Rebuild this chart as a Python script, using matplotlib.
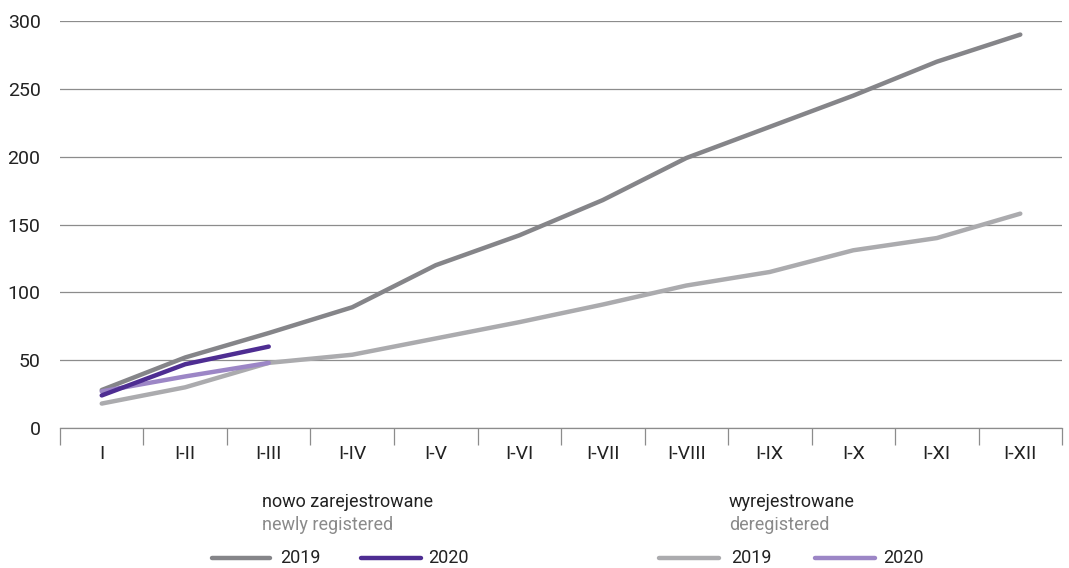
import numpy as np
import matplotlib
matplotlib.use("Agg")
import matplotlib.pyplot as plt
from matplotlib import font_manager

# pick a narrow font if available
names = {f.name for f in font_manager.fontManager.ttflist}
font = "Liberation Sans Narrow" if "Liberation Sans Narrow" in names else "Roboto"
plt.rcParams['font.family'] = [font, 'DejaVu Sans']

# Data
months = ["I", "I-II", "I-III", "I-IV", "I-V", "I-VI", "I-VII", "I-VIII", "I-IX", "I-X", "I-XI", "I-XII"]
new_2019 = [28, 52, 70, 89, 120, 142, 168, 199, 222, 245, 270, 290]
new_2020 = [24, 47, 60]
dereg_2019 = [18, 30, 48, 54, 66, 78, 91, 105, 115, 131, 140, 158]
dereg_2020 = [27, 38, 48]
y_ticks = [0, 50, 100, 150, 200, 250, 300]

c_new19 = "#858589"
c_new20 = "#4e2d92"
c_der19 = "#ababae"
c_der20 = "#9c86c6"

fig = plt.figure(figsize=(10.69, 5.68), dpi=100)
ax = fig.add_axes([0.0561, 0.2465, 0.9374, 0.7165])

x = np.arange(len(months))
lw = 3.2
ax.plot(x, dereg_2019, color=c_der19, lw=lw, solid_capstyle="round", zorder=3)
ax.plot(x, new_2019, color=c_new19, lw=lw, solid_capstyle="round", zorder=4)
ax.plot(x[:len(dereg_2020)], dereg_2020, color=c_der20, lw=lw, solid_capstyle="round", zorder=5)
ax.plot(x[:len(new_2020)], new_2020, color=c_new20, lw=lw, solid_capstyle="round", zorder=6)

ax.set_xlim(-0.5, len(months) - 0.5)
ax.set_ylim(0, 300)
ax.set_yticks(y_ticks)
ax.set_yticklabels([str(v) for v in y_ticks], fontsize=14, color="#222222")
ax.tick_params(axis="y", length=0, pad=14)
ax.yaxis.grid(True, color="#8c8c8c", lw=0.9)
ax.set_axisbelow(True)

# category labels centred, tick marks at boundaries
ax.set_xticks(x)
ax.set_xticklabels(months, fontsize=14, color="#222222")
ax.tick_params(axis="x", which="major", length=0, pad=12)
ax.set_xticks(np.arange(len(months) + 1) - 0.5, minor=True)
ax.tick_params(axis="x", which="minor", length=12, width=0.9, color="#8c8c8c")

for s in ["left", "right", "top"]:
    ax.spines[s].set_visible(False)
ax.spines["bottom"].set_color("#8c8c8c")
ax.spines["bottom"].set_linewidth(0.9)

# legend built by hand
W, H = 1069, 568
def fx(px):
    return px / W
def fy(py):
    return 1 - py / H

fig.text(fx(262), fy(502), "nowo zarejestrowane", fontsize=13, color="#222222", va="center")
fig.text(fx(262), fy(525), "newly registered", fontsize=13, color="#8a8a8a", va="center")
fig.text(fx(729), fy(502), "wyrejestrowane", fontsize=13, color="#222222", va="center")
fig.text(fx(729), fy(525), "deregistered", fontsize=13, color="#8a8a8a", va="center")

entries = [(212, 270, 280, c_new19, "2019"), (361, 421, 428, c_new20, "2020"),
           (659, 719, 731, c_der19, "2019"), (815, 875, 883, c_der20, "2020")]
for x0, x1, xt, col, lab in entries:
    fig.add_artist(plt.Line2D([fx(x0), fx(x1)], [fy(558), fy(558)], color=col, lw=lw,
                              solid_capstyle="round", transform=fig.transFigure))
    fig.text(fx(xt), fy(558), lab, fontsize=13, color="#222222", va="center")

fig.savefig("out.png", dpi=100)
